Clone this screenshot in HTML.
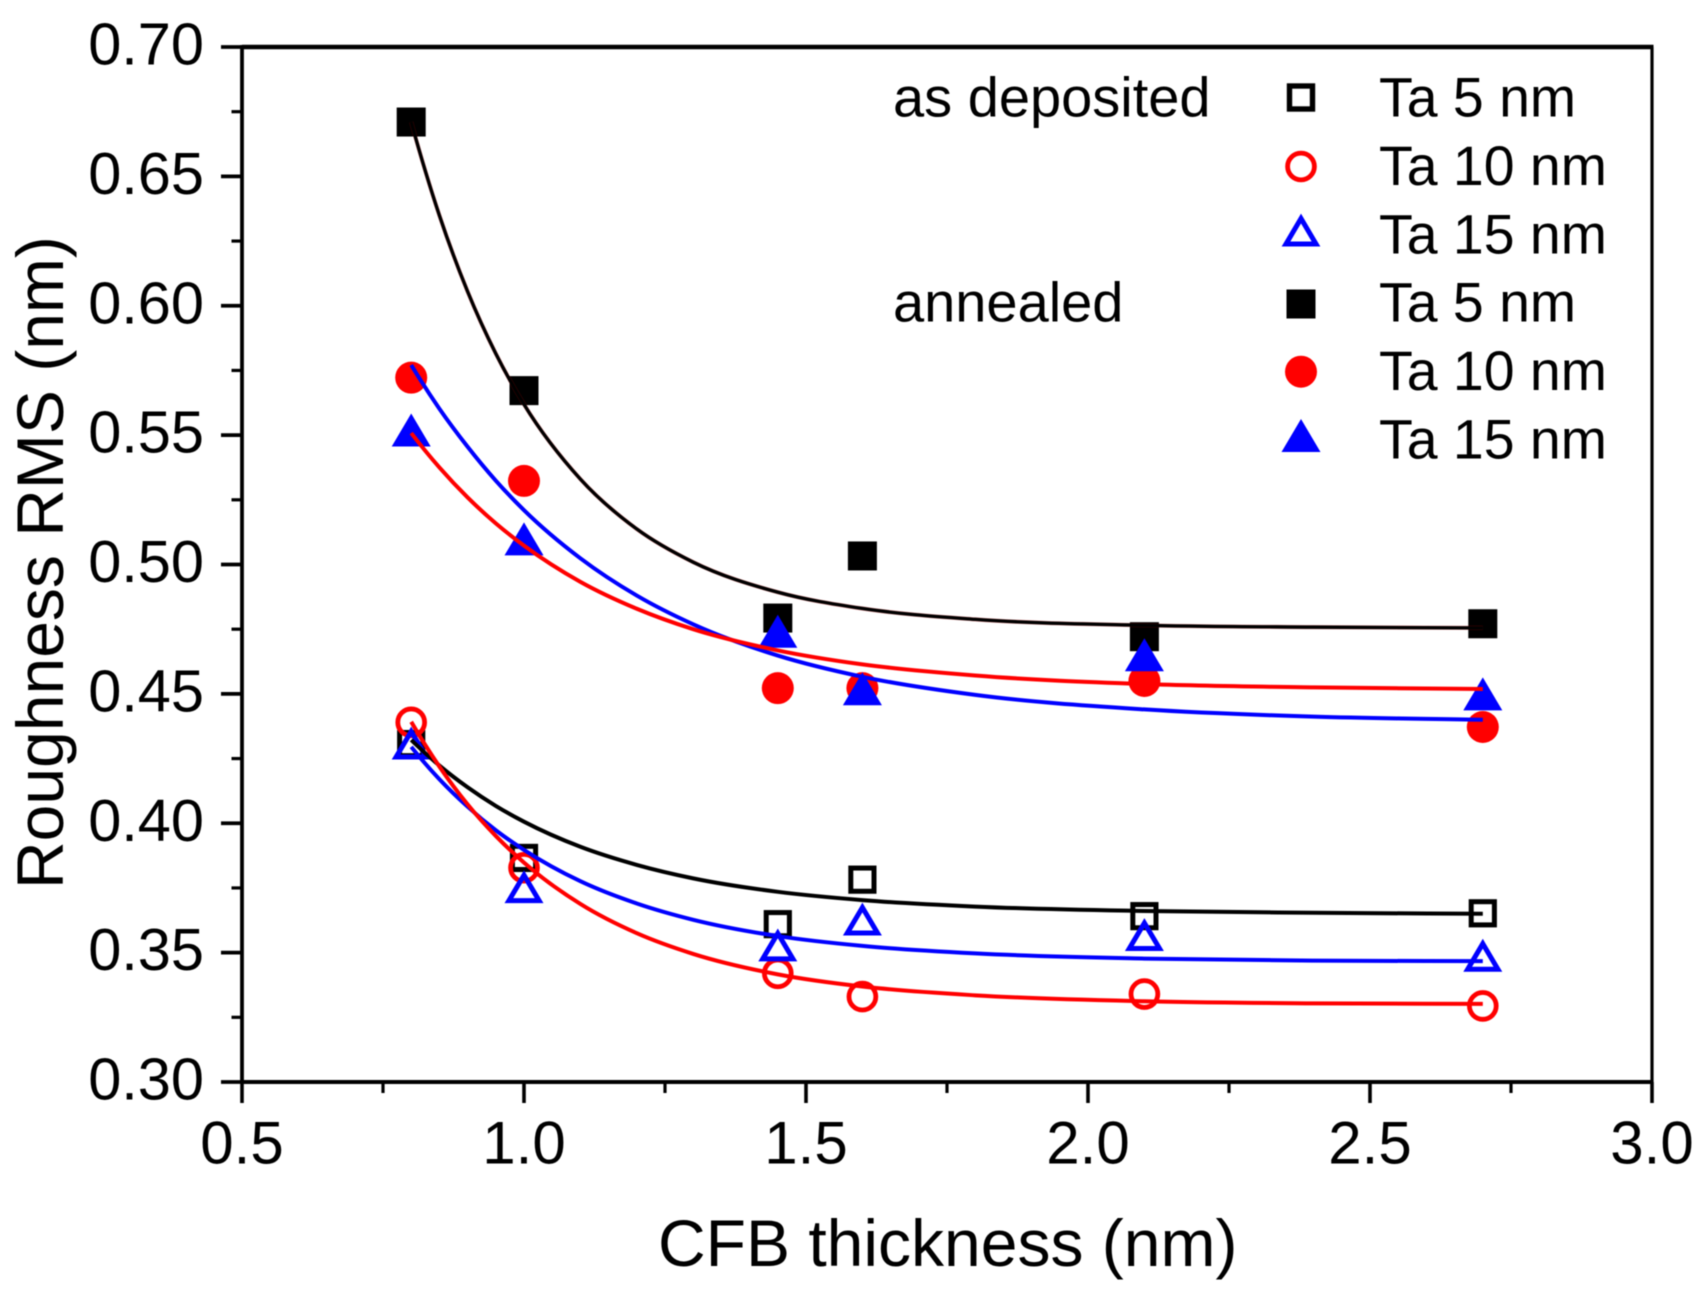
<!DOCTYPE html>
<html lang="en">
<head>
<meta charset="utf-8">
<title>Roughness RMS vs CFB thickness</title>
<style>
  html, body { margin: 0; padding: 0; background: #fff; }
  body { width: 1706px; height: 1297px; overflow: hidden; }
  svg { display: block; font-family: "Liberation Sans", Arial, sans-serif; filter: blur(0.6px); }
  svg text { fill: #000; }
</style>
</head>
<body>
<svg id="chart" xmlns="http://www.w3.org/2000/svg" width="1706" height="1297" viewBox="0 0 1706 1297">
  <rect x="0" y="0" width="1706" height="1297" fill="#fff"/>
  <g id="axes"></g>
  <g id="markers"></g>
  <g id="fits"></g>
  <text transform="translate(63 889) rotate(-90)" font-size="66">Roughness RMS (nm)</text>
  <text x="658" y="1266" font-size="66">CFB thickness (nm)</text>
  <g font-size="55.4">
    <text x="893" y="116.5" font-size="56">as deposited</text>
    <text x="893" y="321.5" font-size="56">annealed</text>
    <rect x="1289.5" y="86" width="23" height="23" fill="none" stroke="#000" stroke-width="5.4"/>
    <text x="1379" y="116.5">Ta 5 nm</text>
    <circle cx="1301" cy="166.5" r="13.4" fill="none" stroke="#f00" stroke-width="4.8"/>
    <text x="1379" y="185">Ta 10 nm</text>
    <polygon points="1301,218.5 1316,244 1286,244" fill="none" stroke="#00f" stroke-width="5"/>
    <text x="1379" y="253.5">Ta 15 nm</text>
    <rect x="1286.5" y="289.5" width="29" height="29" fill="#000"/>
    <text x="1379" y="321.5">Ta 5 nm</text>
    <circle cx="1301" cy="371.7" r="16" fill="#f00"/>
    <text x="1379" y="390">Ta 10 nm</text>
    <polygon points="1301,419 1320.5,452 1281.5,452" fill="#00f"/>
    <text x="1379" y="458.5">Ta 15 nm</text>
  </g>
</svg>
<script>
// ---- chart data ----
const thickness = [0.8, 1.0, 1.45, 1.6, 2.1, 2.7];

const asDepositedTa5  = [0.4306, 0.3866, 0.3610, 0.3782, 0.3641, 0.3652];
const asDepositedTa10 = [0.4390, 0.3828, 0.3420, 0.3330, 0.3340, 0.3294];
const asDepositedTa15 = [0.4310, 0.3755, 0.3530, 0.3630, 0.3570, 0.3490];
const annealedTa5  = [0.6710, 0.5672, 0.4793, 0.5033, 0.4721, 0.4771];
const annealedTa10 = [0.5722, 0.5323, 0.4522, 0.4522, 0.4550, 0.4372];
const annealedTa15 = [0.5520, 0.5099, 0.4742, 0.4520, 0.4651, 0.4500];

const fitThickness = [0.8, 0.85, 0.9, 0.95, 1.0, 1.1, 1.2, 1.3, 1.45, 1.6, 1.8, 2.1, 2.4, 2.7];

const fitAsDepositedTa5  = [0.4322, 0.4223, 0.4139, 0.4067, 0.4006, 0.3909, 0.3839, 0.3787, 0.3735, 0.3703, 0.3678, 0.3661, 0.3654, 0.3650];
const fitAsDepositedTa10 = [0.4392, 0.4219, 0.4073, 0.3951, 0.3848, 0.3688, 0.3575, 0.3495, 0.3416, 0.3369, 0.3335, 0.3312, 0.3304, 0.3302];
const fitAsDepositedTa15 = [0.4295, 0.4170, 0.4064, 0.3973, 0.3897, 0.3776, 0.3690, 0.3627, 0.3564, 0.3526, 0.3497, 0.3477, 0.3469, 0.3467];
const fitAnnealedTa5  = [0.6710, 0.6349, 0.6055, 0.5815, 0.5619, 0.5330, 0.5137, 0.5009, 0.4893, 0.4830, 0.4788, 0.4765, 0.4758, 0.4755];
const fitAnnealedTa10 = [0.5508, 0.5375, 0.5259, 0.5159, 0.5073, 0.4933, 0.4829, 0.4750, 0.4668, 0.4614, 0.4571, 0.4538, 0.4525, 0.4519];
const fitAnnealedTa15 = [0.5771, 0.5602, 0.5455, 0.5324, 0.5210, 0.5024, 0.4880, 0.4769, 0.4648, 0.4566, 0.4496, 0.4440, 0.4412, 0.4400];

const xTickValues = [0.5, 1.0, 1.5, 2.0, 2.5, 3.0];
const xTickLabels = ["0.5", "1.0", "1.5", "2.0", "2.5", "3.0"];
const xMinorTicks = [0.75, 1.25, 1.75, 2.25, 2.75];
const yTickValues = [0.30, 0.35, 0.40, 0.45, 0.50, 0.55, 0.60, 0.65, 0.70];
const yTickLabels = ["0.30", "0.35", "0.40", "0.45", "0.50", "0.55", "0.60", "0.65", "0.70"];
const yMinorTicks = [0.325, 0.375, 0.425, 0.475, 0.525, 0.575, 0.625, 0.675];

// ---- axis functions ----
const plot = { left: 242, right: 1652, top: 47, bottom: 1082 };
const xDomain = [0.5, 3.0];
const yDomain = [0.30, 0.70];
function xPos(v) { return plot.left + (v - xDomain[0]) / (xDomain[1] - xDomain[0]) * (plot.right - plot.left); }
function yPos(v) { return plot.bottom - (v - yDomain[0]) / (yDomain[1] - yDomain[0]) * (plot.bottom - plot.top); }

const NS = 'http://www.w3.org/2000/svg';
function make(parent, tag, attrs) {
  const node = document.createElementNS(NS, tag);
  for (const key in attrs) node.setAttribute(key, attrs[key]);
  parent.appendChild(node);
  return node;
}

const axes = document.getElementById('axes');
const markers = document.getElementById('markers');
const fits = document.getElementById('fits');

// ---- axes ----
function drawAxisLine(x1, y1, x2, y2, w, name) {
  const el = make(axes, 'line', { x1: x1, y1: y1, x2: x2, y2: y2, stroke: '#000', 'stroke-width': w });
  
  
}
drawAxisLine(plot.left, plot.top - 2, plot.left, plot.bottom, 3.8, 'y-axis-line');
drawAxisLine(plot.left, plot.bottom, plot.right + 1.5, plot.bottom, 4, 'x-axis-line');
drawAxisLine(plot.left, plot.top, plot.right + 1.5, plot.top, 4.5, 'plot-top-border');
drawAxisLine(plot.right, plot.top, plot.right, plot.bottom, 3.2, 'plot-right-border');

xTickValues.forEach(function (v, i) {
  const tick = make(axes, 'line', { x1: xPos(v), y1: plot.bottom, x2: xPos(v), y2: plot.bottom + 21, stroke: '#000', 'stroke-width': 3.6 });
  
  
  const label = make(axes, 'text', { x: xPos(v), y: plot.bottom + 81.5, 'font-size': 60, 'text-anchor': 'middle' });
  
  
  label.textContent = xTickLabels[i];
});
xMinorTicks.forEach(function (v) {
  const tick = make(axes, 'line', { x1: xPos(v), y1: plot.bottom, x2: xPos(v), y2: plot.bottom + 11, stroke: '#000', 'stroke-width': 3.2 });
  
  
});
yTickValues.forEach(function (v, i) {
  const tick = make(axes, 'line', { x1: plot.left - 21, y1: yPos(v), x2: plot.left, y2: yPos(v), stroke: '#000', 'stroke-width': 3.8 });
  
  
  const label = make(axes, 'text', { x: 204, y: yPos(v) + 17.5, 'font-size': 59.5, 'text-anchor': 'end' });
  
  
  label.textContent = yTickLabels[i];
});
yMinorTicks.forEach(function (v) {
  const tick = make(axes, 'line', { x1: plot.left - 10.5, y1: yPos(v), x2: plot.left, y2: yPos(v), stroke: '#000', 'stroke-width': 3.2 });
  
  
});

// ---- markers ----
function drawSquare(cx, cy, color, open) {
  if (open) return make(markers, 'rect', { x: cx - 11.6, y: cy - 11.6, width: 23.2, height: 23.2, fill: 'none', stroke: color, 'stroke-width': 5 });
  return make(markers, 'rect', { x: cx - 14.5, y: cy - 14.5, width: 29, height: 29, fill: color });
}
function drawCircle(cx, cy, color, open) {
  if (open) return make(markers, 'circle', { cx: cx, cy: cy, r: 13.4, fill: 'none', stroke: color, 'stroke-width': 4.8 });
  return make(markers, 'circle', { cx: cx, cy: cy, r: 16, fill: color });
}
function drawTriangle(cx, cy, color, open) {
  if (open) {
    const inner = [cx, cy - 11.5, cx + 15.1, cy + 14, cx - 15.1, cy + 14].join(' ');
    return make(markers, 'polygon', { points: inner, fill: 'none', stroke: color, 'stroke-width': 5 });
  }
  const outer = [cx, cy - 16.5, cx + 19.5, cy + 16.5, cx - 19.5, cy + 16.5].join(' ');
  return make(markers, 'polygon', { points: outer, fill: color });
}
function plotPoints(values, drawMarker, color, open, name) {
  values.forEach(function (v, i) {
    const el = drawMarker(xPos(thickness[i]), yPos(v), color, open);
    
    
  });
}
plotPoints(asDepositedTa5, drawSquare, '#000', true, 'as-deposited-ta5-point');
plotPoints(asDepositedTa10, drawCircle, '#f00', true, 'as-deposited-ta10-point');
plotPoints(asDepositedTa15, drawTriangle, '#00f', true, 'as-deposited-ta15-point');
plotPoints(annealedTa5, drawSquare, '#000', false, 'annealed-ta5-point');
plotPoints(annealedTa10, drawCircle, '#f00', false, 'annealed-ta10-point');
plotPoints(annealedTa15, drawTriangle, '#00f', false, 'annealed-ta15-point');

// ---- fit curves (smooth Hermite through the read values, spacing-weighted slopes) ----
function curvePath(values) {
  const px = fitThickness.map(xPos);
  const py = values.map(yPos);
  const n = px.length;
  const seg = [];
  for (let i = 0; i < n - 1; i++) seg.push((py[i + 1] - py[i]) / (px[i + 1] - px[i]));
  const slope = [];
  for (let i = 0; i < n; i++) {
    if (i === 0) {
      const h0 = px[1] - px[0], h1 = px[2] - px[1];
      slope.push(seg[0] + (seg[0] - seg[1]) * h0 / (h0 + h1));
    } else if (i === n - 1) {
      slope.push(seg[n - 2]);
    } else {
      const hl = px[i] - px[i - 1], hr = px[i + 1] - px[i];
      slope.push((hr * seg[i - 1] + hl * seg[i]) / (hl + hr));
    }
  }
  let d = 'M' + px[0].toFixed(2) + ' ' + py[0].toFixed(2);
  for (let i = 0; i < n - 1; i++) {
    const h = (px[i + 1] - px[i]) / 3;
    d += ' C' + (px[i] + h).toFixed(2) + ' ' + (py[i] + slope[i] * h).toFixed(2) +
         ' ' + (px[i + 1] - h).toFixed(2) + ' ' + (py[i + 1] - slope[i + 1] * h).toFixed(2) +
         ' ' + px[i + 1].toFixed(2) + ' ' + py[i + 1].toFixed(2);
  }
  return d;
}
function plotCurve(values, color, width, opacity, name) {
  const el = make(fits, 'path', { d: curvePath(values), fill: 'none', stroke: color, 'stroke-width': width, 'stroke-opacity': opacity });
  
  
}
plotCurve(fitAsDepositedTa5, '#000', 4, 1, 'fit-as-deposited-ta5');
plotCurve(fitAsDepositedTa15, '#00f', 4, 1, 'fit-as-deposited-ta15');
plotCurve(fitAsDepositedTa10, '#f00', 4, 1, 'fit-as-deposited-ta10');
plotCurve(fitAnnealedTa15, '#00f', 4, 1, 'fit-annealed-ta15');
plotCurve(fitAnnealedTa10, '#f00', 4, 1, 'fit-annealed-ta10');
plotCurve(fitAnnealedTa5, '#d00', 4.2, 0.35, 'fit-annealed-ta5-underlay');
plotCurve(fitAnnealedTa5, '#000', 3.4, 1, 'fit-annealed-ta5');
</script>
</body>
</html>
